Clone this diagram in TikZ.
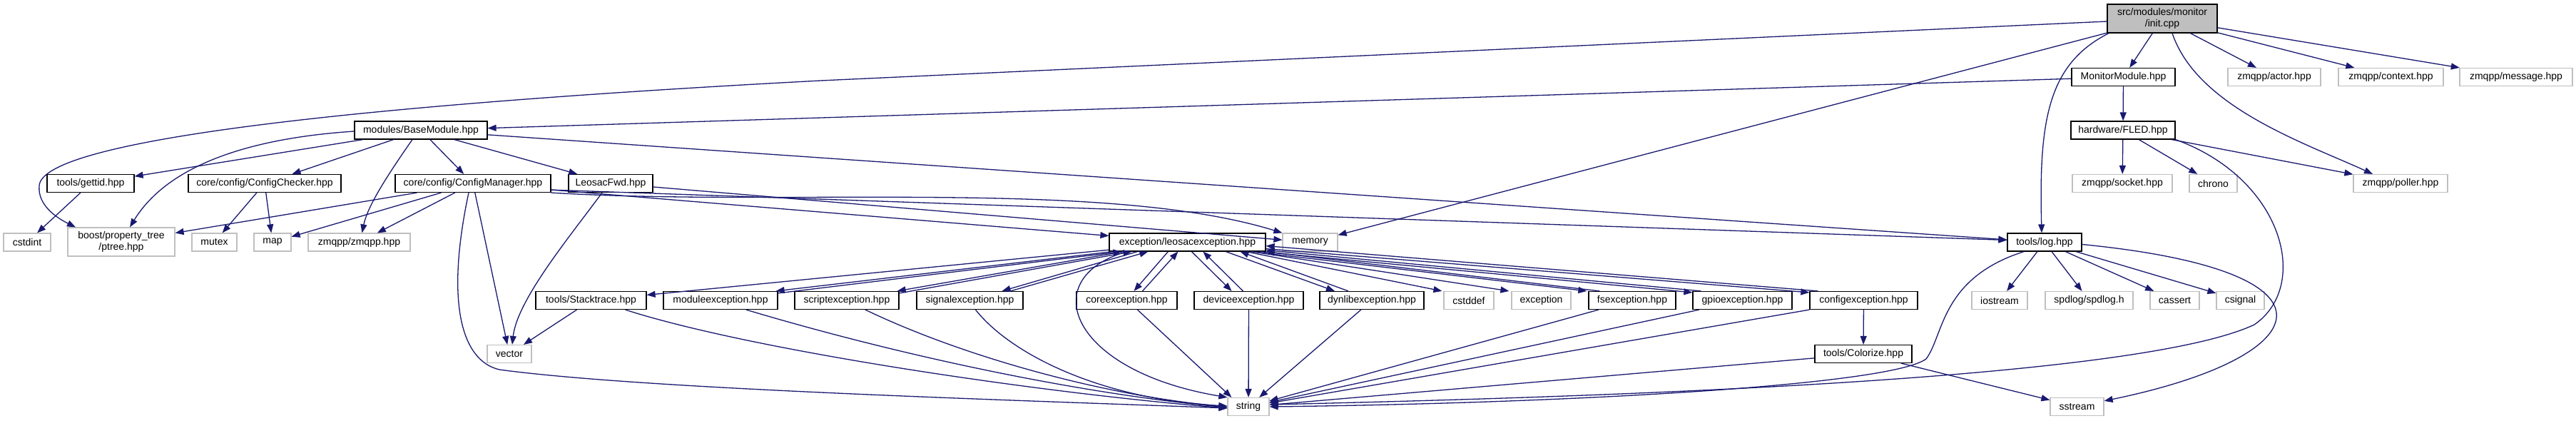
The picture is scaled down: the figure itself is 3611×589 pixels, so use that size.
\documentclass[tikz,border=0pt]{standalone}
\usepackage{fontspec}
\setmainfont{Liberation Sans}
\usetikzlibrary{arrows.meta}
\definecolor{edgec}{HTML}{191970}
\definecolor{greyb}{HTML}{BFBFBF}
\begin{document}
\begin{tikzpicture}[x=1pt,y=-1pt,
  box/.style={rectangle, inner sep=0pt, line width=1.2pt, font=\fontsize{14}{15.5}\selectfont, align=center, fill=white, minimum height=25pt},
  inc/.style={box, draw=black},
  ext/.style={box, draw=greyb},
  rootn/.style={box, draw=black, fill=greyb},
  e/.style={draw=edgec, line width=1.3pt, -{Triangle[length=12pt,width=9pt]}}]
\useasboundingbox[fill=white] (0,0) rectangle (3611,589);
% nodes
\node[rootn, minimum width=154pt, minimum height=40pt] (root) at (3031,26) {src/modules/monitor\\/init.cpp};
\node[inc, minimum width=145pt] (mm) at (2976.5,108) {MonitorModule.hpp};
\node[ext, minimum width=130pt] (actor) at (3188,108) {zmqpp/actor.hpp};
\node[ext, minimum width=147pt] (context) at (3351.5,108) {zmqpp/context.hpp};
\node[ext, minimum width=158pt] (message) at (3527,108) {zmqpp/message.hpp};
\node[inc, minimum width=186pt] (bm) at (590,182.5) {modules/BaseModule.hpp};
\node[inc, minimum width=146pt] (fled) at (2976,182.5) {hardware/FLED.hpp};
\node[inc, minimum width=122pt] (gettid) at (127,257) {tools/gettid.hpp};
\node[inc, minimum width=214pt] (cchk) at (371,257) {core/config/ConfigChecker.hpp};
\node[inc, minimum width=218pt] (cmgr) at (663,257) {core/config/ConfigManager.hpp};
\node[inc, minimum width=118pt] (fwd) at (856,257) {LeosacFwd.hpp};
\node[ext, minimum width=140pt] (socket) at (2975,257) {zmqpp/socket.hpp};
\node[ext, minimum width=67pt] (chrono) at (3102.5,257) {chrono};
\node[ext, minimum width=132pt] (poller) at (3365,257) {zmqpp/poller.hpp};
\node[ext, minimum width=66pt] (cstdint) at (38,339.5) {cstdint};
\node[ext, minimum width=150pt, minimum height=40pt] (ptree) at (170,339) {boost/property\_tree\\/ptree.hpp};
\node[ext, minimum width=63pt] (mutex) at (300.5,339.5) {mutex};
\node[ext, minimum width=52pt] (map) at (382,339.5) {map};
\node[ext, minimum width=143pt] (zmqpp) at (503.5,339.5) {zmqpp/zmqpp.hpp};
\node[inc, minimum width=219pt] (leo) at (1664.5,339.5) {exception/leosacexception.hpp};
\node[ext, minimum width=77pt] (memory) at (1836.5,339.5) {memory};
\node[inc, minimum width=104pt] (log) at (2866,339.5) {tools/log.hpp};
\node[inc, minimum width=155pt] (stack) at (828.5,421) {tools/Stacktrace.hpp};
\node[inc, minimum width=160pt] (modex) at (1010,421) {moduleexception.hpp};
\node[inc, minimum width=146pt] (screx) at (1187,421) {scriptexception.hpp};
\node[inc, minimum width=149pt] (sigex) at (1359.5,421) {signalexception.hpp};
\node[inc, minimum width=141pt] (corex) at (1579.5,421) {coreexception.hpp};
\node[inc, minimum width=153pt] (devex) at (1750.5,421) {deviceexception.hpp};
\node[inc, minimum width=146pt] (dynex) at (1923,421) {dynlibexception.hpp};
\node[ext, minimum width=70pt] (cstddef) at (2059,421) {cstddef};
\node[ext, minimum width=83pt] (exc) at (2160.5,421) {exception};
\node[inc, minimum width=122pt] (fsex) at (2288,421) {fsexception.hpp};
\node[inc, minimum width=139pt] (gpioex) at (2442.5,421) {gpioexception.hpp};
\node[inc, minimum width=151pt] (cfgex) at (2612.5,421) {configexception.hpp};
\node[ext, minimum width=78pt] (iostream) at (2803,421) {iostream};
\node[ext, minimum width=123pt] (spdlog) at (2928.5,421) {spdlog/spdlog.h};
\node[ext, minimum width=69pt] (cassert) at (3048.5,421) {cassert};
\node[ext, minimum width=67pt] (csignal) at (3140.5,421) {csignal};
\node[ext, minimum width=62pt] (vector) at (714,496) {vector};
\node[inc, minimum width=136pt] (colorize) at (2612,496) {tools/Colorize.hpp};
\node[ext, minimum width=58pt] (string) at (1750,570) {string};
\node[ext, minimum width=75pt] (sstream) at (2911.5,570) {sstream};
% root edges
\draw[e] (root) -- (mm);
\draw[e] (root) -- (actor);
\draw[e] (root) -- (context);
\draw[e] (root) -- (message);
\draw[e] ([xshift=14pt]root.south) .. controls (3080,150) and (3230,200) .. ([xshift=-39pt]poller.north);
\draw[e] (root) -- (memory);
\draw[e] ([xshift=-75pt]root.south) .. controls (2870,90) and (2858,170) .. ([xshift=-4pt]log.north);
\draw[e] ([yshift=-4pt]root.west) -- (1150,113) .. controls (450,150) and (60,200) .. (55,260) .. controls (52,290) and (85,308) .. ([xshift=-64pt]ptree.north);
% MonitorModule
\draw[e] (mm) -- (fled);
\draw[e] (mm) -- (bm);
% FLED
\draw[e] (fled) -- (socket);
\draw[e] (fled) -- (chrono);
\draw[e] (fled) -- (poller);
\draw[e] (fled.south east) .. controls (3200,250) and (3240,400) .. (3160,455) .. controls (3000,530) and (2300,555) .. ([yshift=3pt]string.east);
% log
\draw[e] (log) -- (iostream);
\draw[e] (log) -- (spdlog);
\draw[e] (log) -- (cassert);
\draw[e] (log) -- (csignal);
\draw[e] ([yshift=-3pt]log.east) .. controls (3300,380) and (3250,500) .. ([yshift=-5pt]sstream.north east);
\draw[e] ([xshift=-29pt]log.south) .. controls (2720,390) and (2725,470) .. (2700,503) .. controls (2650,540) and (2200,565) .. (string.east);
% BaseModule
\draw[e] (bm) -- (gettid);
\draw[e] (bm) -- (cchk);
\draw[e] (bm) -- (cmgr);
\draw[e] (bm) -- (fwd);
\draw[e] (bm) -- (log);
\draw[e] ([yshift=-1.5pt]bm.west) .. controls (330,195) and (230,240) .. ([xshift=12pt]ptree.north);
\draw[e] ([xshift=-12pt]bm.south) .. controls (540,250) and (515,290) .. ([xshift=4pt]zmqpp.north);
% gettid, ConfigChecker
\draw[e] (gettid) -- (cstdint);
\draw[e] (cchk) -- (mutex);
\draw[e] (cchk) -- (map);
% ConfigManager
\draw[e] (cmgr) -- (ptree);
\draw[e] (cmgr) -- (map);
\draw[e] (cmgr) -- (zmqpp);
\draw[e] (cmgr) -- (vector);
\draw[e] ([xshift=-6pt]cmgr.south) .. controls (625,420) and (645,505) .. (700,518) .. controls (900,545) and (1400,560) .. ([yshift=-2pt]string.west);
\draw[e] (cmgr) -- (leo);
\draw[e] (cmgr.south east) .. controls (1100,290) and (1550,250) .. (memory.north west);
\draw[e] ([yshift=4pt]cmgr.south east) -- ([yshift=3pt]log.west);
% LeosacFwd
\draw[e] (fwd) -- (memory);
\draw[e] ([xshift=-12pt]fwd.south) .. controls (800,330) and (725,420) .. ([xshift=4pt]vector.north);
% leosacexception
\draw[e] (leo) -- (stack);
\draw[e] ([xshift=5pt]leo.south west) -- ([xshift=-3pt]modex.north east);
\draw[e] ([yshift=-3pt]modex.north east) -- ([xshift=18pt]leo.south west);
\draw[e] ([xshift=20pt]leo.south west) -- ([xshift=-3pt]screx.north east);
\draw[e] ([yshift=-3pt]screx.north east) -- ([xshift=32pt]leo.south west);
\draw[e] ([xshift=40pt]leo.south west) -- ([xshift=-30pt]sigex.north east);
\draw[e] ([xshift=-18pt]sigex.north east) -- ([xshift=55pt]leo.south west);
\draw[e] ([xshift=83pt]leo.south west) -- ([xshift=10pt]corex.north);
\draw[e] ([xshift=22pt]corex.north) -- ([xshift=97pt]leo.south west);
\draw[e] ([xshift=116pt]leo.south west) -- ([xshift=-24pt]devex.north);
\draw[e] ([xshift=-8pt]devex.north) -- ([xshift=132pt]leo.south west);
\draw[e] ([xshift=164pt]leo.south west) -- ([xshift=-52pt]dynex.north);
\draw[e] ([xshift=-33pt]dynex.north) -- ([xshift=184pt]leo.south west);
\draw[e] ([xshift=192pt]leo.south west) -- ([xshift=-2pt]cstddef.north west);
\draw[e] ([xshift=200pt]leo.south west) -- ([xshift=-3pt]exc.north west);
\draw[e] ([xshift=-20pt]leo.south east) -- ([xshift=-2pt]fsex.north west);
\draw[e] ([xshift=16pt]fsex.north west) -- (leo.south east);
\draw[e] ([xshift=-8pt]leo.south east) -- ([yshift=-2pt]gpioex.north west);
\draw[e] ([xshift=12pt]gpioex.north west) -- ([yshift=2pt]leo.south east);
\draw[e] ([yshift=4pt]leo.south east) -- ([yshift=-2pt]cfgex.north west);
\draw[e] ([xshift=12pt]cfgex.north west) -- ([yshift=8pt]leo.south east);
\draw[e] ([xshift=25pt]leo.south west) .. controls (1450,390) and (1500,520) .. (string.north west);
% into string
\draw[e] ([xshift=-30pt]stack.south east) .. controls (1050,490) and (1450,550) .. ([yshift=-2pt]string.west);
\draw[e] ([xshift=36pt]modex.south) .. controls (1250,495) and (1500,550) .. ([yshift=-1pt]string.west);
\draw[e] ([xshift=26pt]screx.south) .. controls (1350,500) and (1550,555) .. (string.west);
\draw[e] ([xshift=8pt]sigex.south) .. controls (1420,500) and (1550,560) .. ([yshift=1pt]string.west);
\draw[e] ([xshift=15pt]corex.south) -- ([xshift=6pt]string.north west);
\draw[e] (devex) -- (string);
\draw[e] (dynex) -- (string);
\draw[e] (fsex) -- (string);
\draw[e] (gpioex) -- (string);
\draw[e] (cfgex) -- (string);
\draw[e] (colorize) -- (string);
\draw[e] (cfgex) -- (colorize);
\draw[e] (colorize) -- (sstream);
\draw[e] (stack) -- (vector);
\end{tikzpicture}
\end{document}
